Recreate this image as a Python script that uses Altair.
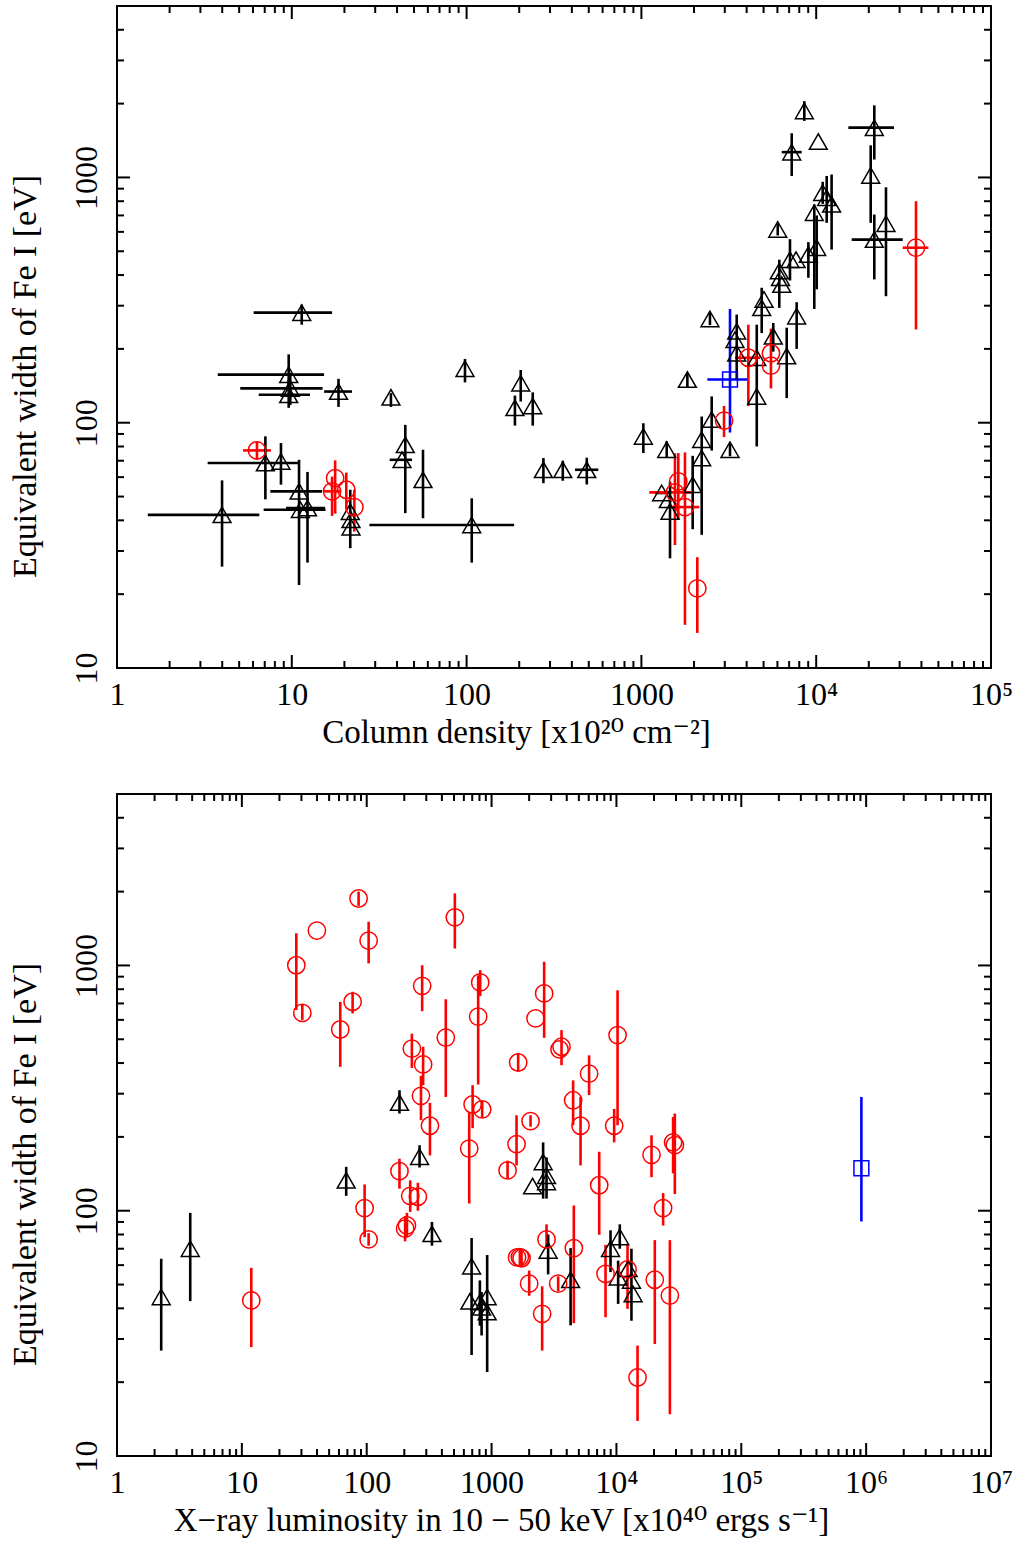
import altair as alt
import pandas as pd

FONT = "Liberation Serif, DejaVu Serif"

# ---------------- top panel: column density vs equivalent width ----------------
top_kind = ["tri", "tri", "tri", "tri", "tri", "tri", "circ", "tri", "tri", "tri",
            "tri", "tri", "tri", "circ", "circ", "circ", "circ", "tri", "tri", "tri",
            "tri", "tri", "tri", "tri", "tri", "tri", "tri", "tri", "tri", "tri",
            "tri", "tri", "tri", "tri", "tri", "sq", "tri", "tri", "tri", "circ",
            "tri", "tri", "circ", "circ", "tri", "tri", "circ", "tri", "tri", "tri",
            "tri", "tri", "tri", "tri", "tri", "circ", "circ", "circ", "circ", "tri",
            "tri", "tri", "tri", "tri", "tri", "tri", "tri", "tri", "tri", "tri",
            "tri", "circ", "tri", "tri", "tri", "tri", "tri", "tri", "tri", "tri",
            "tri", "tri"]
top_nh = [11.4, 9.6, 9.8, 9.6, 18.5, 36.9, 6.32, 7.06, 8.67, 11.0,
          11.2, 12.3, 3.99, 17.7, 17.0, 20.5, 22.8, 21.6, 21.8, 21.8,
          44.6, 42.7, 56.3, 97.9, 204, 189, 239, 107, 275, 355,
          487, 1026, 1396, 1832, 2467, 3213, 3510, 3430, 3510, 4090,
          4570, 4570, 5510, 5510, 5680, 6780, 2970, 2524, 3213, 2213,
          2213, 1965, 1306, 1426, 1458, 1626, 1556, 1775, 2089, 8550,
          10280, 7244, 21500, 20500, 10890, 11480, 12250, 9750, 6025, 25070,
          21500, 37240, 10070, 9020, 7080, 7670, 6150, 6250, 6350, 7730,
          4878, 5030]
top_ew = [281, 157, 138, 130, 134, 127, 77.1, 68.5, 69.5, 52.5,
          44.2, 44.9, 42.1, 59.4, 52.5, 53.3, 45.3, 43.4, 40.2, 37.5,
          81.3, 70.6, 58.5, 166, 145, 115, 117, 38.3, 64.3, 64.3,
          64.3, 87.9, 77.6, 150, 265, 150, 236, 218, 192, 184,
          184, 128, 192, 171, 225, 187, 102, 103, 77.6, 85.3,
          71.8, 55.8, 51.7, 48.5, 43.5, 57.6, 52, 45.3, 21.1, 1866,
          1400, 1268, 1596, 1019, 867, 827, 777, 718, 614, 648,
          558, 517, 517, 485, 462, 462, 415, 390, 366, 272,
          294, 318]
top_nh_lo = [6.05, 3.77, 5.07, 6.47, 15.3, None, 5.26, 3.3, None, 7.54,
             6.9, 9.27, 1.5, None, 15.2, None, None, None, None, None,
             None, 36.3, None, None, None, None, None, 27.8, None, None,
             417, None, None, None, None, 2383, None, None, None, 3430,
             None, None, None, None, None, None, None, None, None, None,
             None, None, 1200, None, None, None, 1110, 1426, None, None,
             None, 6350, 15270, None, None, None, None, None, None, None,
             15960, 31260, None, None, None, None, None, None, None, None,
             None, None]
top_nh_hi = [17.0, 15.3, 15.0, 12.7, 22.1, None, 7.6, 11.1, None, 14.9,
             15.6, 15.5, 6.52, None, 18.9, None, None, None, None, None,
             None, 48.7, None, None, None, None, None, 187, None, None,
             567, None, None, None, None, 4130, None, None, None, 4770,
             None, None, None, None, None, None, None, None, None, None,
             None, None, 1420, None, None, None, 1915, 2143, None, None,
             None, 8260, 27860, None, None, None, None, None, None, None,
             31260, 43850, None, None, None, None, None, None, None, None,
             None, None]
top_ew_lo = [251, 135, 118, 115, 116, 116, 70.6, 48.7, 55.9, 21.8,
             None, 26.9, 25.9, 42.6, 41.7, 44.5, 36, 30.8, None, None,
             42.8, None, 40.8, 146, 122, 97.3, 97.3, 26.9, 56.7, 58,
             56, 75.2, 72, 140, 250, 91.2, None, None, 150, 117,
             None, 80, 138, None, 195, 126, 87.4, 77, 73, 34.9,
             None, 36.8, None, None, 28, 40.2, 31.7, 15, 13.9, 1700,
             None, 1014, 1183, 653, 780, 653, 508, 291, 580, 328,
             384, 240, 350, 390, 380, None, 294, None, None, 200,
             232, None]
top_ew_hi = [303, 190, 160, 150, 151, 132, 84, 88, 82.6, 70.6,
             None, 63, 58.2, 70.2, 60.3, 62.6, 53.3, 53.3, None, None,
             98, None, 77.6, 182, 164, 129, 133, 49.2, 71.8, 70,
             72, 99.5, 84, 160, 280, 291, None, None, 276, 251,
             None, 251, 242, None, 255, 244, 117, 128, 82, 106,
             None, 73.3, None, None, 57.5, 75.2, 75, 75.7, 28.3, 2046,
             None, 1514, 1967, 1352, 960, 1014, 1028, 776, 650, 912,
             706, 800, 700, 545, 560, None, 462, None, None, 310,
             355, None]

# ---------------- bottom panel: X-ray luminosity vs equivalent width ----------------
bot_kind = (["circ"] * 58) + ["sq"] + (["tri"] * 24)
bot_lx = [86.1, 39.9, 103.6, 27.3, 30.5, 77.1, 61.4, 230, 508, 278,
          811, 781, 2637, 2250, 430, 10210, 283, 3633, 3500, 1633,
          6040, 272, 4500, 705, 841, 2052, 321, 5160, 9590, 662,
          1585, 1343, 183, 96.2, 103.6, 223, 257, 203, 210, 11.9,
          7280, 19100, 28440, 29370, 23650, 1686, 1738, 1600, 2000, 2541,
          2755, 3415, 4560, 8180, 12270, 20290, 26800, 14760,
          916000,
          2.26, 3.86, 68.5, 183, 265, 333, 2588, 2130, 2755, 2755,
          692, 670, 806, 832, 922, 922, 2838, 4295, 8970, 10640,
          10320, 12410, 13190, 13600]
bot_ew = [1875, 1387, 1262, 1002, 641, 711, 548, 458, 1571, 826,
          853, 618, 769, 608, 508, 520, 395, 466, 455, 402,
          362, 294, 282, 271, 259, 232, 222, 222, 222, 179,
          187, 146, 145, 102.5, 76.4, 115, 114, 84.5, 87.2, 43.1,
          127, 169, 190, 185, 102.5, 64.7, 64, 64.5, 50.4, 38,
          76.4, 50.4, 70.4, 55.3, 57.6, 52.3, 45.1, 20.9,
          149,
          44.5, 70, 133, 276, 166, 80.5, 158, 126, 139, 131,
          59.4, 42.7, 42.4, 40.4, 44.5, 38.6, 68.9, 52.3, 70, 78.2,
          53.6, 58, 52, 45.8]
bot_ew_lo = [1750, None, 1019, 658, 600, 637, 386, 382, 1172, 651,
             751, 327, 507, None, 291, 223, 325, 392, None, 370,
             296, 234, 223, 217, 240, 220, 168, 153, 190, 107,
             153, 135, 123, 78, 72, 98.9, 100, 75, 78, 27.8,
             79.8, 137, 142, 117, 87, 60, 59, None, 45, 26.9,
             70, 47, 34.8, 36.8, 39.8, 28.6, 14.8, 13.9,
             90.4,
             26.9, 42.8, 115, 249, 150, 72, 112, None, None, 112,
             25.8, None, 34, 31, None, 22, 55, 34.1, 56.2, 70,
             41.7, None, 35.6, None]
bot_ew_hi = [2000, None, 1507, 1352, 690, 781, 711, 527, 1967, 1002,
             957, 912, 1035, None, 728, 792, 466, 545, None, 440,
             430, 355, 340, 325, 280, 245, 275, 291, 260, 253,
             245, 160, 163, 128, 81, 133, 130, 95, 98, 58.5,
             174, 203, 241, 249, 118, 70, 69, None, 57, 49.2,
             88, 54, 105, 72.6, 73.4, 75.9, 75.9, 28.2,
             291,
             63.7, 98, 151, 310, 185, 90, 190, None, None, 165,
             77.4, None, 52, 46.6, None, 66, 80, 70.4, 83.2, 88,
             62.6, None, 70, None]

# ---------------- axes ----------------
top_x_major = [1, 10, 100, 1000, 10000, 100000]
top_x_labels = ["1", "10", "100", "1000", "10\u2074", "10\u2075"]
bot_x_major = [1, 10, 100, 1000, 10000, 100000, 1000000, 10000000]
bot_x_labels = ["1", "10", "100", "1000", "10\u2074", "10\u2075", "10\u2076", "10\u2077"]
y_major = [10, 100, 1000]
y_labels = ["10", "100", "1000"]
y_domain = [10, 5000]
top_x_domain = [1, 100000]
bot_x_domain = [1, 10000000]

top_x_title = "Column density [x10\u00b2\u2070 cm\u207b\u00b2]"
bot_x_title = "X\u2212ray luminosity in 10 \u2212 50 keV [x10\u2074\u2070 ergs s\u207b\u00b9]"
y_title = "Equivalent width of Fe I [eV]"

COLORS = {"tri": "black", "circ": "red", "sq": "blue"}
W, H = 874, 662
MAJ, MIN = 13, 7


def label_expr(vals, labels):
    e = "''"
    for v, l in reversed(list(zip(vals, labels))):
        e = f"abs(datum.value - {v}) < {v} * 1e-6 ? '{l}' : ({e})"
    return e


def minor_ticks(lo, hi):
    out = []
    d = lo
    while d < hi:
        for m in range(2, 10):
            v = m * d
            if v <= hi * 1.0000001:
                out.append(v)
        d *= 10
    return out


def fill(vals, ref):
    return [r if v is None else v for v, r in zip(vals, ref)]


def panel(df, xdom, xmaj, xlab, xtitle, xtitle_x):
    xscale = alt.Scale(type="log", domain=xdom, nice=False)
    yscale = alt.Scale(type="log", domain=y_domain, nice=False)
    xaxis = alt.Axis(values=xmaj, labelExpr=label_expr(xmaj, xlab), ticks=False, tickSize=0,
                     domain=False, grid=False, labelFlush=False, labelOverlap=False,
                     labelFont=FONT, labelFontSize=32, labelColor="black", labelPadding=11,
                     title=xtitle, titleFont=FONT, titleFontSize=33, titleFontWeight="normal",
                     titleColor="black", titlePadding=6, titleX=xtitle_x)
    yaxis = alt.Axis(values=y_major, labelExpr=label_expr(y_major, y_labels), ticks=False, tickSize=0,
                     domain=False, grid=False, labelFlush=False, labelOverlap=False,
                     labelAngle=270, labelAlign="center", labelBaseline="alphabetic",
                     labelFont=FONT, labelFontSize=32, labelColor="black", labelPadding=21,
                     title=y_title, titleFont=FONT, titleFontSize=34, titleFontWeight="normal",
                     titleColor="black", titlePadding=28, titleY=370)

    def X(f):
        return alt.X(f, type="quantitative", scale=xscale, axis=xaxis)

    def Y(f):
        return alt.Y(f, type="quantitative", scale=yscale, axis=yaxis)

    xmin = minor_ticks(xdom[0], xdom[1])
    xt = pd.DataFrame({"v": xmaj + xmin, "major": [True] * len(xmaj) + [False] * len(xmin)})
    ymin = minor_ticks(y_domain[0], y_domain[1])
    yt = pd.DataFrame({"v": y_major + ymin, "major": [True] * len(y_major) + [False] * len(ymin)})

    layers = []
    rk = dict(color="black", strokeWidth=2)
    for flt, L in (("datum.major", MAJ), ("!datum.major", MIN)):
        cx = alt.Chart(xt).transform_filter(flt).mark_rule(**rk)
        layers.append(cx.encode(x=X("v"), y=alt.value(H), y2=alt.value(H - L)))
        layers.append(cx.encode(x=X("v"), y=alt.value(0), y2=alt.value(L)))
        cy = alt.Chart(yt).transform_filter(flt).mark_rule(**rk)
        layers.append(cy.encode(y=Y("v"), x=alt.value(0), x2=alt.value(L)))
        layers.append(cy.encode(y=Y("v"), x=alt.value(W), x2=alt.value(W - L)))

    color = alt.Color("kind:N", scale=alt.Scale(domain=list(COLORS), range=list(COLORS.values())),
                      legend=None)
    base = alt.Chart(df)
    layers.append(base.mark_rule(strokeWidth=2.6).encode(x=X("xlo"), x2="xhi", y=Y("y"), color=color))
    layers.append(base.mark_rule(strokeWidth=2.6).encode(x=X("x"), y=Y("ylo"), y2="yhi", color=color))
    for k, shape, size in (("tri", "triangle-up", 320), ("circ", "circle", 300), ("sq", "square", 220)):
        layers.append(base.transform_filter(f"datum.kind == '{k}'")
                      .mark_point(shape=shape, size=size, filled=False, strokeWidth=1.5,
                                  color=COLORS[k], opacity=1)
                      .encode(x=X("x"), y=Y("y")))
    return alt.layer(*layers).properties(width=W, height=H)


top_df = pd.DataFrame({
    "x": top_nh, "y": top_ew,
    "xlo": fill(top_nh_lo, top_nh), "xhi": fill(top_nh_hi, top_nh),
    "ylo": fill(top_ew_lo, top_ew), "yhi": fill(top_ew_hi, top_ew),
    "kind": top_kind,
})
bot_df = pd.DataFrame({
    "x": bot_lx, "y": bot_ew,
    "xlo": bot_lx, "xhi": bot_lx,
    "ylo": fill(bot_ew_lo, bot_ew), "yhi": fill(bot_ew_hi, bot_ew),
    "kind": bot_kind,
})

top = panel(top_df, top_x_domain, top_x_major, top_x_labels, top_x_title, 399)
bot = panel(bot_df, bot_x_domain, bot_x_major, bot_x_labels, bot_x_title, 384)

chart = (alt.vconcat(top, bot, spacing=42)
         .properties(padding={"left": 7, "top": 4, "right": 0, "bottom": 0}, background="white")
         .configure_view(stroke="black", strokeWidth=2)
         .configure_axis(labelFont=FONT, titleFont=FONT))

chart.save("out.html", embed_options={"renderer": "svg", "actions": False})
